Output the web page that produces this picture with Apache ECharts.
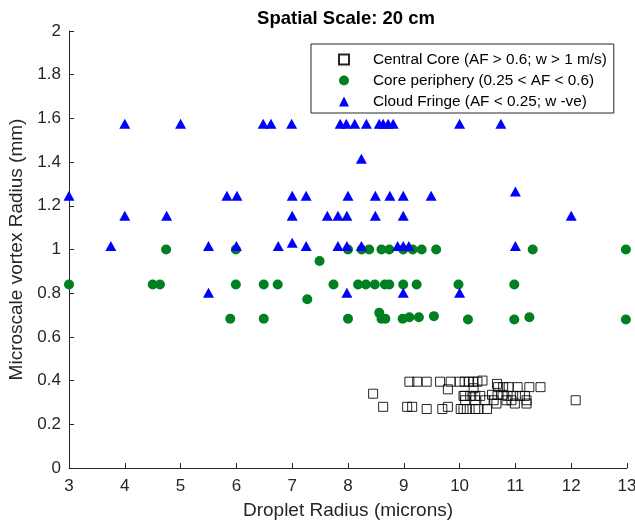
<!DOCTYPE html>
<html>
<head>
<meta charset="utf-8">
<script src="https://cdn.jsdelivr.net/npm/echarts@6/dist/echarts.min.js"></script>
<style>
html,body{margin:0;padding:0;background:#fff;}
#chart{width:635px;height:522px;}
</style>
</head>
<body>
<div id="chart"></div>
<script>
// ---- Data ----
var titleText = 'Spatial Scale: 20 cm';
var xAxisName = 'Droplet Radius (microns)';
var yAxisName = 'Microscale vortex Radius (mm)';
var seriesNames = ['Central Core (AF > 0.6; w > 1 m/s)', 'Core periphery (0.25 < AF < 0.6)', 'Cloud Fringe (AF < 0.25; w -ve)'];

var centralCore = [
  [8.45,0.34],[8.63,0.28],[9.06,0.28],[9.15,0.28],[9.41,0.27],[9.69,0.27],[9.79,0.28],[10.02,0.27],
  [9.10,0.395],[9.24,0.395],[9.41,0.395],[9.65,0.395],[9.84,0.395],[10.0,0.395],[10.09,0.395],
  [10.17,0.395],[10.24,0.395],[10.32,0.395],[10.41,0.40],
  [9.79,0.36],[10.09,0.33],[10.25,0.365],[10.67,0.385],[10.69,0.37],[10.78,0.37],[10.88,0.37],
  [11.04,0.37],[11.25,0.37],[11.45,0.37],
  [10.07,0.33],[10.19,0.33],[10.28,0.33],[10.37,0.33],[10.58,0.335],[10.68,0.335],[10.77,0.335],
  [10.86,0.33],[10.96,0.33],[11.08,0.33],[11.17,0.33],
  [10.1,0.31],[10.28,0.31],[10.46,0.31],[10.61,0.31],[10.84,0.31],[10.93,0.31],[11.2,0.31],
  [10.66,0.295],[10.99,0.295],[11.2,0.295],
  [10.07,0.27],[10.13,0.27],[10.28,0.27],[10.34,0.27],[10.49,0.27],
  [12.08,0.31]
];

var corePeriphery = [
  [4.74,1.0],[5.99,1.0],[8.0,1.0],[8.245,1.0],[8.38,1.0],[8.6,1.0],[8.74,1.0],[8.99,1.0],[9.16,1.0],
  [9.32,1.0],[9.58,1.0],[11.31,1.0],[12.98,1.0],
  [7.49,0.947],[7.27,0.772],
  [3.0,0.84],[4.5,0.84],[4.63,0.84],[5.99,0.84],[6.49,0.84],[6.74,0.84],[7.74,0.84],[8.18,0.84],
  [8.32,0.84],[8.48,0.84],[8.66,0.84],[8.74,0.84],[8.99,0.84],[9.23,0.84],[9.98,0.84],[10.98,0.84],
  [5.89,0.683],[6.49,0.683],[8.0,0.683],[8.56,0.71],[8.6,0.683],[8.67,0.683],[8.98,0.683],
  [9.1,0.69],[9.27,0.69],[9.54,0.695],[10.15,0.68],[10.98,0.68],[11.25,0.69],[12.98,0.68]
];

var cloudFringe = [
  [4.0,1.575],[5.0,1.575],[6.48,1.575],[6.62,1.575],[6.99,1.575],[7.86,1.575],[7.97,1.575],[8.12,1.575],
  [8.33,1.575],[8.56,1.575],[8.63,1.575],[8.72,1.575],[8.81,1.575],[10.0,1.575],[10.74,1.575],
  [8.24,1.415],
  [3.0,1.246],[5.83,1.246],[6.01,1.246],[7.0,1.246],[7.25,1.246],[8.0,1.246],[8.49,1.246],[8.75,1.246],
  [8.99,1.246],[9.49,1.246],[11.0,1.265],
  [4.0,1.155],[4.75,1.155],[7.0,1.155],[7.63,1.155],[7.82,1.155],[7.98,1.155],[8.49,1.155],[8.99,1.155],[12.0,1.155],
  [3.75,1.016],[5.5,1.016],[6.0,1.016],[6.75,1.016],[7.0,1.031],[7.25,1.016],[7.82,1.016],[7.98,1.016],
  [8.24,1.016],[8.89,1.016],[8.99,1.016],[9.09,1.016],[11.0,1.016],
  [5.5,0.802],[7.98,0.802],[8.99,0.802],[10.0,0.802]
];

var xMin = 3, xMax = 13, xStep = 1;
var yMin = 0, yMax = 2, yStep = 0.2;

// ---- Chart ----
var FONT = 'Liberation Sans, Arial, sans-serif';
var AX = '#262626';
var chart = echarts.init(document.getElementById('chart'), null, {renderer: 'canvas'});
chart.setOption({
  animation: false,
  backgroundColor: '#fff',
  title: {
    text: titleText,
    left: 341,
    textAlign: 'center',
    top: 4,
    textStyle: {fontFamily: FONT, fontSize: 18.5, fontWeight: 'bold', color: '#000'}
  },
  legend: {
    orient: 'vertical',
    left: 311,
    top: 44,
    padding: [8, 7, 4, 27],
    itemGap: 6,
    itemWidth: 10,
    itemHeight: 10,
    borderColor: AX,
    borderWidth: 1,
    backgroundColor: '#fff',
    textStyle: {fontFamily: FONT, fontSize: 15.3, color: '#000', padding: [0, 0, 0, 19]},
    data: seriesNames
  },
  grid: {left: 69, right: 8, top: 31, bottom: 54, containLabel: false, outerBoundsMode: 'none'},
  xAxis: {
    type: 'value', min: xMin, max: xMax, interval: xStep,
    name: xAxisName, nameLocation: 'middle', nameGap: 33,
    nameTextStyle: {fontFamily: FONT, fontSize: 19, color: AX},
    axisLine: {show: true, onZero: false, lineStyle: {color: AX, width: 1}},
    axisTick: {show: true, inside: true, length: 5, lineStyle: {color: AX}},
    axisLabel: {fontFamily: FONT, fontSize: 17, color: AX, margin: 10},
    splitLine: {show: false}
  },
  yAxis: {
    type: 'value', min: yMin, max: yMax, interval: yStep,
    name: yAxisName, nameLocation: 'middle', nameGap: 35,
    nameTextStyle: {fontFamily: FONT, fontSize: 19, color: AX},
    axisLine: {show: true, onZero: false, lineStyle: {color: AX, width: 1}},
    axisTick: {show: true, inside: true, length: 5, lineStyle: {color: AX}},
    axisLabel: {fontFamily: FONT, fontSize: 17, color: AX, margin: 8},
    splitLine: {show: false}
  },
  series: [
    {
      name: seriesNames[0], type: 'scatter', data: centralCore,
      symbol: 'rect', symbolSize: 9,
      itemStyle: {color: 'rgba(255,255,255,0)', borderColor: '#000', borderWidth: 1, opacity: 0.85}
    },
    {
      name: seriesNames[1], type: 'scatter', data: corePeriphery,
      symbol: 'circle', symbolSize: 10,
      itemStyle: {color: '#008020', opacity: 1}
    },
    {
      name: seriesNames[2], type: 'scatter', data: cloudFringe,
      symbol: 'triangle', symbolSize: [11, 10],
      itemStyle: {color: '#0000ff', opacity: 1}
    }
  ]
});
</script>
</body>
</html>
